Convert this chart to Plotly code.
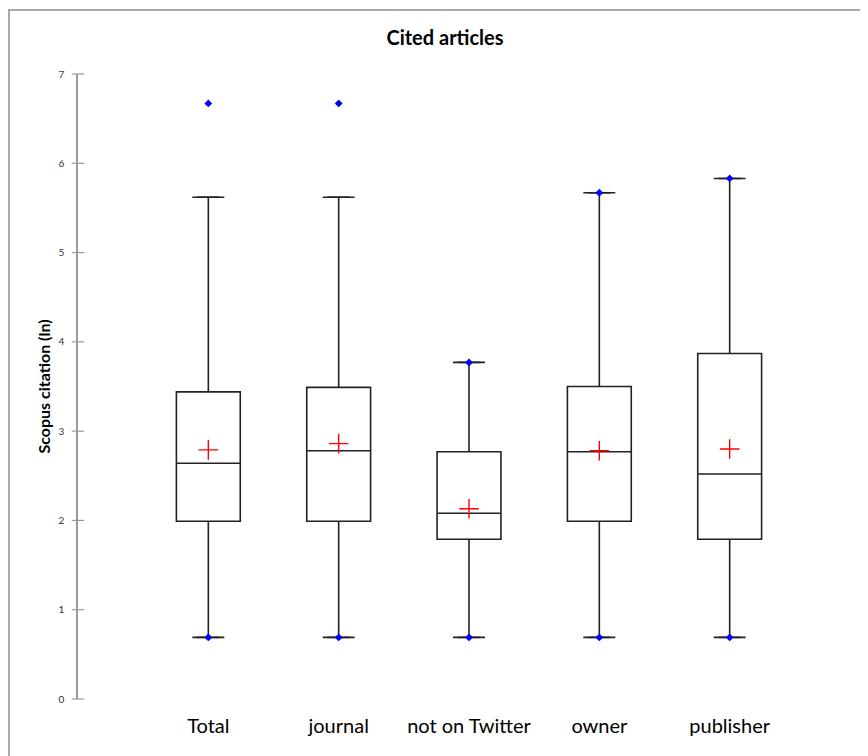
import plotly.graph_objects as go

categories = ["Total", "journal", "not on Twitter", "owner", "publisher"]
q1 = [1.99, 1.99, 1.79, 1.99, 1.79]
median = [2.64, 2.78, 2.08, 2.77, 2.52]
q3 = [3.44, 3.49, 2.77, 3.50, 3.87]
lower_whisker = [0.69, 0.69, 0.69, 0.69, 0.69]
upper_whisker = [5.62, 5.62, 3.77, 5.67, 5.83]
means = [2.79, 2.86, 2.13, 2.78, 2.80]
minima = [0.69, 0.69, 0.69, 0.69, 0.69]
maxima = [6.67, 6.67, 3.77, 5.67, 5.83]
y_ticks = [0, 1, 2, 3, 4, 5, 6, 7]

FONT = "Lato, 'Open Sans', sans-serif"
W, H = 868, 756
L, R, T, B = 70, 16, 66, 65
PW, PH = W - L - R, H - T - B

pos = list(range(len(categories)))
X_MIN, X_MAX = -1, len(categories)

fig = go.Figure()

fig.add_trace(go.Box(
    x=pos, q1=q1, median=median, q3=q3,
    lowerfence=lower_whisker, upperfence=upper_whisker,
    width=0.49, fillcolor="white",
    line=dict(color="#222222", width=1.6),
    boxpoints=False, showlegend=False, hoverinfo="skip",
))

# whisker caps
fig.add_trace(go.Scatter(
    x=pos + pos, y=lower_whisker + upper_whisker,
    mode="markers", showlegend=False, hoverinfo="skip",
    marker=dict(symbol="line-ew", size=16, line=dict(color="#222222", width=1.6)),
))

# min / max markers
fig.add_trace(go.Scatter(
    x=pos + pos, y=minima + maxima,
    mode="markers", showlegend=False,
    marker=dict(symbol="diamond", size=6, color="#0000ff"),
))

# means
fig.add_trace(go.Scatter(
    x=pos, y=means, mode="markers", showlegend=False,
    marker=dict(symbol="cross-thin", size=14, line=dict(color="#ff0000", width=1.4)),
))

# y-axis tick marks crossing the axis line
fig.add_trace(go.Scatter(
    x=[X_MIN] * len(y_ticks), y=y_ticks, mode="markers", showlegend=False,
    hoverinfo="skip", cliponaxis=False,
    marker=dict(symbol="line-ew", size=9, line=dict(color="#999999", width=1.2)),
))

fig.update_layout(
    width=W, height=H,
    margin=dict(l=L, r=R, t=T, b=B),
    paper_bgcolor="white", plot_bgcolor="white",
    font=dict(family=FONT, color="black"),
    title=dict(text="<b>Cited articles</b>", x=437 / W, xanchor="center", xref="container",
               y=1 - 30 / H, yanchor="middle", yref="container",
               font=dict(size=20, family=FONT, color="black")),
    xaxis=dict(range=[X_MIN, X_MAX], tickvals=pos, ticktext=categories,
               showline=False, showgrid=False, zeroline=False,
               ticks="", tickfont=dict(size=20, color="black"), ticklabelstandoff=13),
    yaxis=dict(range=[0, 7], tickvals=y_ticks, showgrid=False, zeroline=False,
               showline=True, linecolor="#999999", linewidth=1.5,
               ticks="", tickfont=dict(size=10, color="#333333"), ticklabelstandoff=10,
               title=dict(text="<b>Scopus citation (ln)</b>", standoff=4,
                          font=dict(size=16, color="black"))),
    shapes=[dict(type="rect", xref="paper", yref="paper",
                 x0=(1 - L) / PW, x1=1.1, y0=-0.3, y1=(PH + T - 2) / PH,
                 line=dict(color="#aaaaaa", width=2), fillcolor="rgba(0,0,0,0)", layer="below")],
)

fig.write_html("out.html")
